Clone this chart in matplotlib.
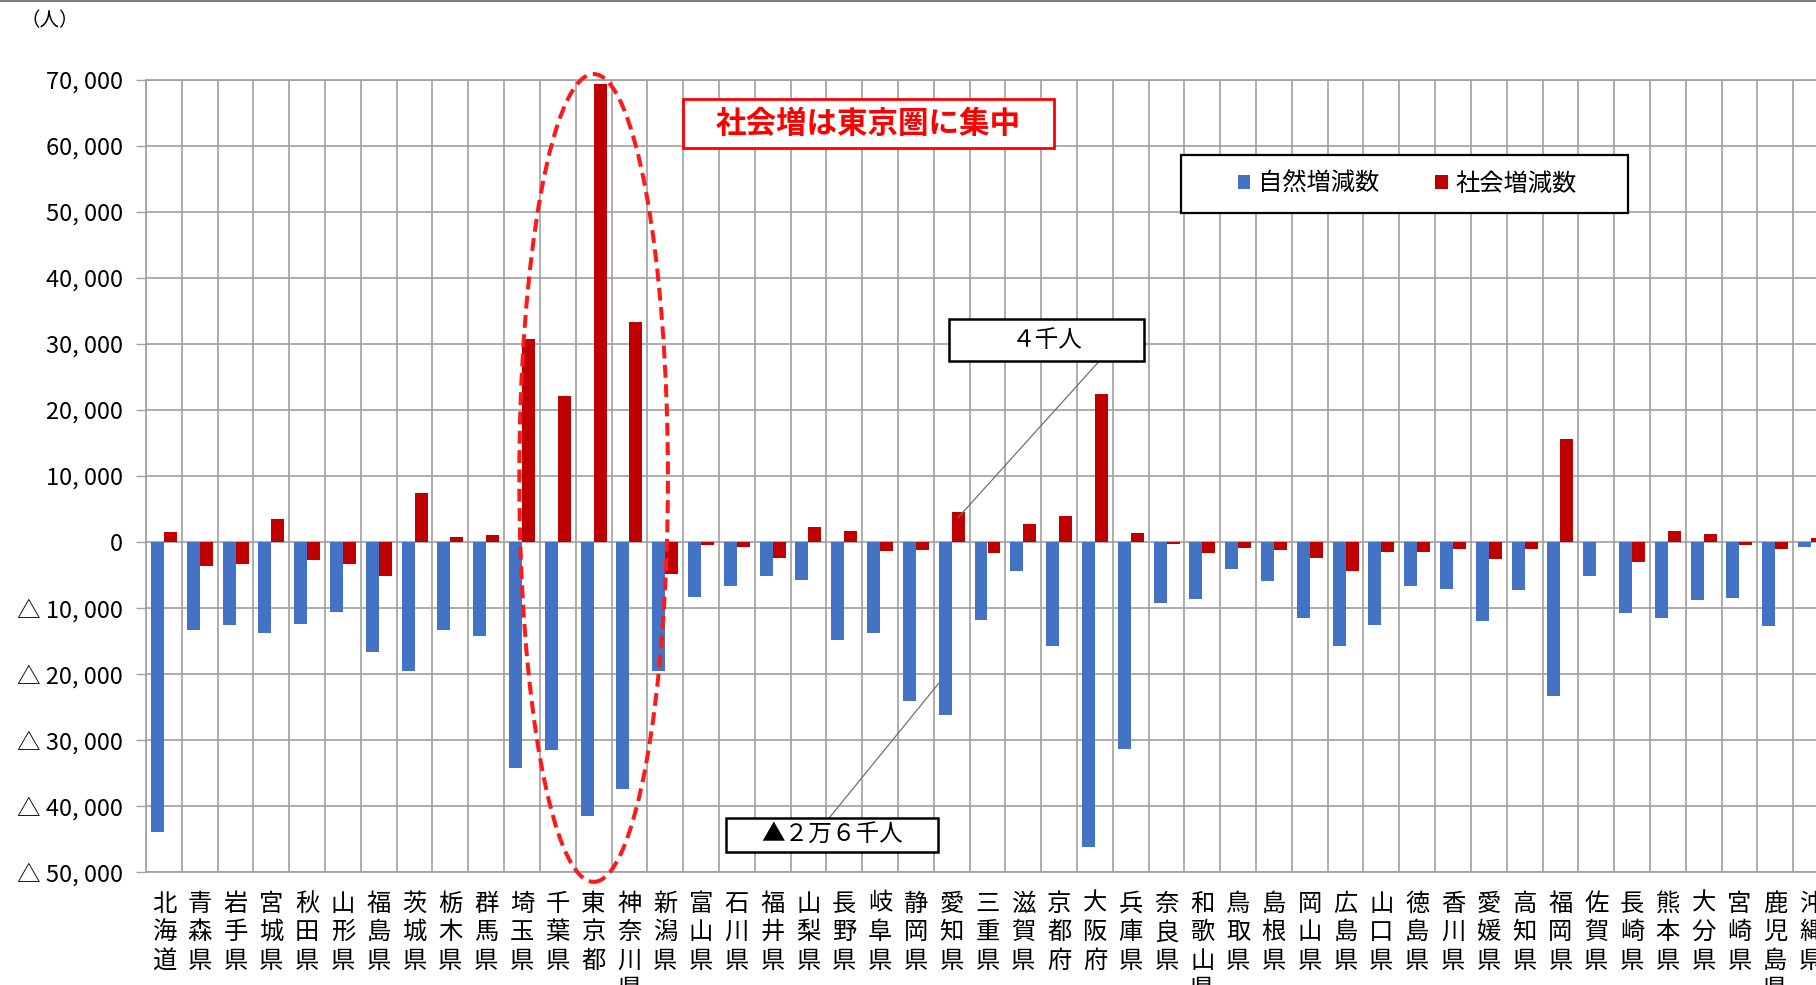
import matplotlib
matplotlib.use("Agg")
import matplotlib.pyplot as plt
from matplotlib.patches import Ellipse, Rectangle, Patch
from matplotlib.lines import Line2D
from matplotlib.ticker import FixedLocator, FuncFormatter
import numpy as np

plt.rcParams['font.family'] = ['Noto Sans CJK JP', 'DejaVu Sans']

# ---------------- data ----------------
prefectures = ["北海道", "青森県", "岩手県", "宮城県", "秋田県", "山形県", "福島県",
               "茨城県", "栃木県", "群馬県", "埼玉県", "千葉県", "東京都", "神奈川県",
               "新潟県", "富山県", "石川県", "福井県", "山梨県", "長野県", "岐阜県",
               "静岡県", "愛知県", "三重県", "滋賀県", "京都府", "大阪府", "兵庫県",
               "奈良県", "和歌山県", "鳥取県", "島根県", "岡山県", "広島県", "山口県",
               "徳島県", "香川県", "愛媛県", "高知県", "福岡県", "佐賀県", "長崎県",
               "熊本県", "大分県", "宮崎県", "鹿児島県", "沖縄県"]

natural_change = [-43900, -13300, -12500, -13800, -12400, -10600, -16600,
                  -19600, -13300, -14300, -34300, -31500, -41500, -37400,
                  -19600, -8300, -6700, -5200, -5800, -14900, -13800,
                  -24100, -26200, -11800, -4400, -15700, -46200, -31300,
                  -9200, -8700, -4100, -5900, -11500, -15700, -12600,
                  -6600, -7100, -11900, -7300, -23400, -5200, -10700,
                  -11500, -8800, -8500, -12700, -700]

social_change = [1500, -3700, -3400, 3500, -2700, -3300, -5200,
                 7400, 800, 1000, 30800, 22100, 69400, 33400,
                 -4800, -500, -800, -2400, 2300, 1700, -1400,
                 -1200, 4600, -1700, 2700, 4000, 22500, 1300,
                 -300, -1700, -900, -1200, -2400, -4400, -1500,
                 -1500, -1100, -2600, -1000, 15600, 0, -3000,
                 1600, 1200, -500, -1000, 600]

series_names = ["自然増減数", "社会増減数"]
y_ticks = list(range(-50000, 70001, 10000))
unit_label = "（人）"
headline = "社会増は東京圏に集中"
callout_social = "４千人"
callout_natural = "▲２万６千人"

BLUE = "#4472C4"
RED = "#C00000"
GRID = "#A0A0A0"

W, H = 1816, 985
fig = plt.figure(figsize=(W / 100, H / 100), dpi=100)
ax = fig.add_axes([146 / W, 1 - 872 / H, 1683 / W, (872 - 80) / H])

x = np.arange(len(prefectures))
bw = 0.363
ax.bar(x - bw, natural_change, bw, align="edge", color=BLUE, zorder=3,
       label=series_names[0])
ax.bar(x, social_change, bw, align="edge", color=RED, zorder=3,
       label=series_names[1])

ax.set_xlim(-0.5, len(prefectures) - 0.5)
ax.set_ylim(y_ticks[0], y_ticks[-1])

# y axis
ax.yaxis.set_major_locator(FixedLocator(y_ticks))


def fmt(v, pos=None):
    v = int(round(v))
    s = f"{abs(v):,}".replace(",", ", ")
    return f"△ {s}" if v < 0 else s


ax.yaxis.set_major_formatter(FuncFormatter(fmt))
ax.tick_params(axis="y", length=7, width=1, color=GRID, pad=9.5,
               labelsize=17)
ax.grid(axis="y", which="major", color=GRID, lw=1.2, zorder=0)

# x axis
ax.set_xticks(x)
ax.set_xticklabels(["\n".join(p) for p in prefectures], fontsize=17.5,
                   linespacing=1.12, va="top")
ax.tick_params(axis="x", which="major", length=0, pad=13.5)
ax.set_xticks(np.arange(-0.5, len(prefectures), 1.0), minor=True)
ax.tick_params(axis="x", which="minor", length=0)
ax.grid(axis="x", which="minor", color=GRID, lw=1.2, zorder=0)
ax.grid(axis="x", which="major", visible=False)

for s in ax.spines.values():
    s.set_color(GRID)
    s.set_linewidth(1.2)
ax.set_axisbelow(True)

# dashed ellipse around Tokyo area
ell = Ellipse((12, 9700), width=4.15, height=122400, fill=False,
              edgecolor="#FF1A1A", lw=2.9, linestyle=(0, (3.2, 1.6)),
              zorder=6, clip_on=False)
ax.add_patch(ell)

# headline box
ax.add_patch(Rectangle((14.5, 59700), 10.36, 7400, facecolor="white",
                       edgecolor="#FF0000", lw=2, zorder=6, clip_on=False))
ax.text(14.5 + 10.36 / 2, 59700 + 3700, headline, color="#FF0000",
        fontsize=22, weight="bold", ha="center", va="center", zorder=7)

# callout for social change of Aichi
ax.add_patch(Rectangle((21.93, 27400), 5.45, 6400, facecolor="white",
                       edgecolor="black", lw=1.8, zorder=6, clip_on=False))
ax.text(21.93 + 5.45 / 2, 27400 + 3200, callout_social, fontsize=17,
        ha="center", va="center", zorder=7)
ax.plot([26.12, 22.18], [27400, 3700], color="#707070", lw=0.9, zorder=5)

# callout for natural change of Aichi
ax.add_patch(Rectangle((15.70, -47000), 5.92, 5200, facecolor="white",
                       edgecolor="black", lw=1.8, zorder=6, clip_on=False))
ax.text(15.70 + 5.92 / 2, -47000 + 2600, callout_natural, fontsize=17,
        ha="center", va="center", zorder=7)
ax.plot([18.58, 21.64], [-41800, -21400], color="#707070", lw=0.9, zorder=5)

# legend with a manual frame
lx, ly, lw_, lh = 1181 / W, 1 - 213 / H, 447 / W, 58 / H
fig.add_artist(Rectangle((lx, ly), lw_, lh, transform=fig.transFigure,
                         facecolor="white", edgecolor="black", lw=1.6,
                         zorder=8))
handles = [Patch(facecolor=BLUE), Patch(facecolor=RED)]
leg = fig.legend(handles, series_names, loc="center",
                 bbox_to_anchor=(lx + lw_ / 2 + 3 / W, ly + lh / 2),
                 bbox_transform=fig.transFigure, ncol=2, frameon=False,
                 fontsize=17.5, handlelength=0.5, handleheight=0.5,
                 handletextpad=0.34, columnspacing=2.3, borderpad=0)
leg.set_zorder(9)

# unit label and top rule
fig.text(50 / W, 1 - 21 / H, unit_label, fontsize=14, ha="center",
         va="center")
fig.add_artist(Line2D([0, 1], [1 - 1 / H, 1 - 1 / H], transform=fig.transFigure,
                      color="#808080", lw=1.5))

fig.savefig("out.png", dpi=100)
